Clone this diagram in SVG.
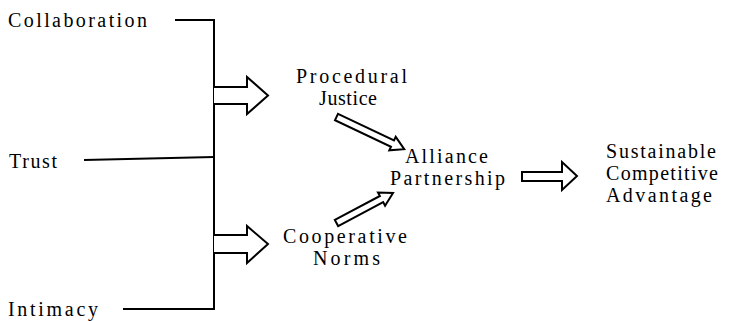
<svg xmlns="http://www.w3.org/2000/svg" width="735" height="321" viewBox="0 0 735 321">
<style>
text { font-family: "Liberation Serif", "Times New Roman", serif; font-size: 20px; fill: #000; }
.ln { fill: none; stroke: #000; stroke-width: 2; stroke-linejoin: miter; }
.blk { fill: #fff; stroke: #000; stroke-width: 2; stroke-linejoin: miter; }
</style>
<rect width="735" height="321" fill="#fff"/>
<g id="connectors">
  <polyline class="ln" points="175,20 214,20 214,309 123,309"/>
  <line class="ln" x1="84" y1="160" x2="214" y2="157"/>
  <polyline class="blk" points="214,87 247,87 247,77 268,95.5 247,114 247,104 214,104"/>
  <polyline class="blk" points="214,235 247,235 247,226 268,244 247,263 247,253 214,253"/>
  <path class="blk" d="M0,-3.5 H62 V-7.5 L75,0 L62,7.5 V3.5 H0 Z" transform="translate(336.5,117) rotate(25.4)"/>
  <path class="blk" d="M0,-3.5 H51 V-7.5 L64,0 L51,7.5 V3.5 H0 Z" transform="translate(336.5,223) rotate(-28)"/>
  <path class="blk" d="M522,172 H562 V162 L577,176 L562,190 V181 H522 Z"/>
</g>
<g id="collaboration"><text x="8" y="27" textLength="139" lengthAdjust="spacing">Collaboration</text></g>
<g id="trust"><text x="9" y="168" textLength="48" lengthAdjust="spacing">Trust</text></g>
<g id="intimacy"><text x="8" y="316" textLength="90" lengthAdjust="spacing">Intimacy</text></g>
<g id="procedural-justice">
  <text x="296" y="83" textLength="111" lengthAdjust="spacing">Procedural</text>
  <text x="319" y="105" textLength="58" lengthAdjust="spacing">Justice</text>
</g>
<g id="cooperative-norms">
  <text x="283" y="243" textLength="124" lengthAdjust="spacing">Cooperative</text>
  <text x="313" y="265" textLength="67" lengthAdjust="spacing">Norms</text>
</g>
<g id="alliance-partnership">
  <text x="405" y="163" textLength="83" lengthAdjust="spacing">Alliance</text>
  <text x="390" y="185" textLength="115" lengthAdjust="spacing">Partnership</text>
</g>
<g id="sustainable-competitive-advantage">
  <text x="606" y="158" textLength="110" lengthAdjust="spacing">Sustainable</text>
  <text x="606" y="180" textLength="112" lengthAdjust="spacing">Competitive</text>
  <text x="606" y="202" textLength="106" lengthAdjust="spacing">Advantage</text>
</g>
</svg>
